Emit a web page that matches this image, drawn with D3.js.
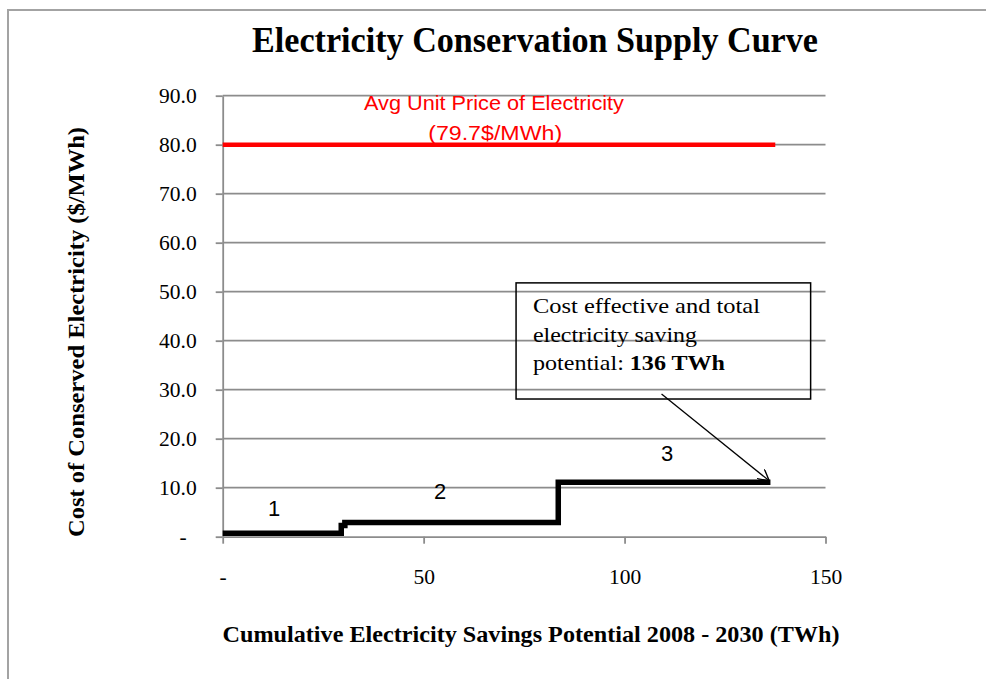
<!DOCTYPE html>
<html><head><meta charset="utf-8">
<script src="https://cdn.jsdelivr.net/npm/d3@7"></script>
<style>body{margin:0;background:#fff}svg{display:block}</style>
</head><body>
<svg id="c" width="986" height="679"></svg>
<script>
// ---- data ----
const segStart = [0, 29.5, 30.4, 83.5];
const segEnd   = [29.5, 30.4, 83.5, 136.3];
const segCost  = [0.7, 2.3, 2.9, 11.1];
const priceValue = 80.0;
const priceEnd = 137.5;
const priceLabel = ["Avg Unit Price of Electricity", "(79.7$/MWh)"];
const groupLabels = ["1", "2", "3"];
const groupLabelX = [12.8, 54.1, 110.6];
const groupLabelY = [4.2, 7.7, 15.4];
const yTicks = [0, 10, 20, 30, 40, 50, 60, 70, 80, 90];
const xTicks = [0, 50, 100, 150];
const totalPotential = 136;

const svg = d3.select("#c");
const x = d3.scaleLinear([0, 150], [222.7, 825.5]);
const y = d3.scaleLinear([0, 90], [536.7, 95.7]);
const serif = "'Liberation Serif','Times New Roman',serif";
const sans = "'Liberation Sans',Arial,sans-serif";
const grid = "#8c8c8c";

// outer frame
svg.append("rect").attr("x", 8).attr("y", 10).attr("width", 1000).attr("height", 700)
  .attr("fill", "none").attr("stroke", "#a3a3a3").attr("stroke-width", 2);

// title
svg.append("text").attr("x", 535).attr("y", 52).attr("text-anchor", "middle")
  .attr("font-family", serif).attr("font-weight", "bold").attr("font-size", 36)
  .attr("textLength", 566).attr("lengthAdjust", "spacingAndGlyphs")
  .text("Electricity Conservation Supply Curve");

// gridlines
svg.append("g").selectAll("line").data(yTicks.filter(d => d > 0)).join("line")
  .attr("x1", x(0)).attr("x2", x(150)).attr("y1", d => y(d)).attr("y2", d => y(d))
  .attr("stroke", grid).attr("stroke-width", 1.8);

// y axis
const ya = svg.append("g").attr("transform", `translate(${x(0)},0)`)
  .call(d3.axisLeft(y).tickValues(yTicks).tickSize(7).tickSizeOuter(0).tickPadding(19)
    .tickFormat(d => d === 0 ? "-" : d.toFixed(1)));
ya.select(".domain").attr("stroke", grid).attr("stroke-width", 1.8);
ya.selectAll(".tick line").attr("stroke", grid).attr("stroke-width", 1.8);
ya.selectAll(".tick text").attr("font-family", serif).attr("font-size", 21.5).attr("fill", "#000")
  .attr("dx", d => d === 0 ? -10 : 0);

// x axis
const xa = svg.append("g").attr("transform", `translate(0,${y(0)})`)
  .call(d3.axisBottom(x).tickValues(xTicks).tickSize(7).tickSizeOuter(0).tickPadding(25)
    .tickFormat(d => d === 0 ? "-" : d));
xa.select(".domain").attr("stroke", grid).attr("stroke-width", 1.8);
xa.selectAll(".tick line").attr("stroke", grid).attr("stroke-width", 1.8);
xa.selectAll(".tick text").attr("font-family", serif).attr("font-size", 21.5).attr("fill", "#000");

// axis titles
svg.append("text").attr("x", 531).attr("y", 642).attr("text-anchor", "middle")
  .attr("font-family", serif).attr("font-weight", "bold").attr("font-size", 23)
  .attr("textLength", 617).attr("lengthAdjust", "spacingAndGlyphs")
  .text("Cumulative Electricity Savings Potential 2008 - 2030 (TWh)");
svg.append("text").attr("transform", "translate(84,332) rotate(-90)").attr("text-anchor", "middle")
  .attr("font-family", serif).attr("font-weight", "bold").attr("font-size", 23)
  .attr("textLength", 410).attr("lengthAdjust", "spacingAndGlyphs")
  .text("Cost of Conserved Electricity ($/MWh)");

// price line
svg.append("line").attr("x1", x(0)).attr("x2", x(priceEnd))
  .attr("y1", y(priceValue)).attr("y2", y(priceValue))
  .attr("stroke", "#ff0000").attr("stroke-width", 4.5);
svg.append("text").attr("x", x(67.5)).attr("y", y(87.1)).attr("text-anchor", "middle")
  .attr("font-family", sans).attr("font-size", 21).attr("fill", "#ff0000")
  .attr("textLength", 260).attr("lengthAdjust", "spacingAndGlyphs").text(priceLabel[0]);
svg.append("text").attr("x", x(67.8)).attr("y", y(81.0)).attr("text-anchor", "middle")
  .attr("font-family", sans).attr("font-size", 21).attr("fill", "#ff0000")
  .attr("textLength", 134).attr("lengthAdjust", "spacingAndGlyphs").text(priceLabel[1]);

// step supply curve
const pts = [];
segStart.forEach((s, i) => { pts.push([s, segCost[i]]); pts.push([segEnd[i], segCost[i]]); });
svg.append("path").datum(pts)
  .attr("d", d3.line().x(d => x(d[0])).y(d => y(d[1])))
  .attr("fill", "none").attr("stroke", "#000").attr("stroke-width", 5.5)
  .attr("stroke-linejoin", "miter");

// group labels
svg.append("g").selectAll("text").data(groupLabels).join("text")
  .attr("x", (d, i) => x(groupLabelX[i])).attr("y", (d, i) => y(groupLabelY[i]))
  .attr("text-anchor", "middle").attr("font-family", sans).attr("font-size", 22)
  .text(d => d);

// annotation box
const bx0 = 73.0, bx1 = 146.3, by0 = 51.8, by1 = 28.1;
svg.append("rect").attr("x", x(bx0)).attr("y", y(by0))
  .attr("width", x(bx1) - x(bx0)).attr("height", y(by1) - y(by0))
  .attr("fill", "none").attr("stroke", "#000").attr("stroke-width", 1.5);
const ann = svg.append("g").attr("font-family", serif).attr("font-size", 21.5);
ann.append("text").attr("x", 533).attr("y", 313)
  .attr("textLength", 227).attr("lengthAdjust", "spacingAndGlyphs").text("Cost effective and total");
ann.append("text").attr("x", 533).attr("y", 342)
  .attr("textLength", 164).attr("lengthAdjust", "spacingAndGlyphs").text("electricity saving");
const t3 = ann.append("text").attr("x", 533).attr("y", 370)
  .attr("textLength", 192).attr("lengthAdjust", "spacingAndGlyphs");
t3.append("tspan").text("potential: ");
t3.append("tspan").attr("font-weight", "bold").text(totalPotential + " TWh");

// arrow
svg.append("defs").append("marker").attr("id", "ah").attr("viewBox", "0 0 12 12")
  .attr("refX", 11).attr("refY", 6).attr("markerWidth", 12).attr("markerHeight", 12)
  .attr("markerUnits", "userSpaceOnUse").attr("orient", "auto")
  .append("path").attr("d", "M0,0 L11,6 L0,12").attr("fill", "none")
  .attr("stroke", "#000").attr("stroke-width", 1.4);
svg.append("line").attr("x1", x(109.2)).attr("y1", y(29.1))
  .attr("x2", x(totalPotential)).attr("y2", y(11.4))
  .attr("stroke", "#000").attr("stroke-width", 1.3).attr("marker-end", "url(#ah)");
</script>
</body></html>
